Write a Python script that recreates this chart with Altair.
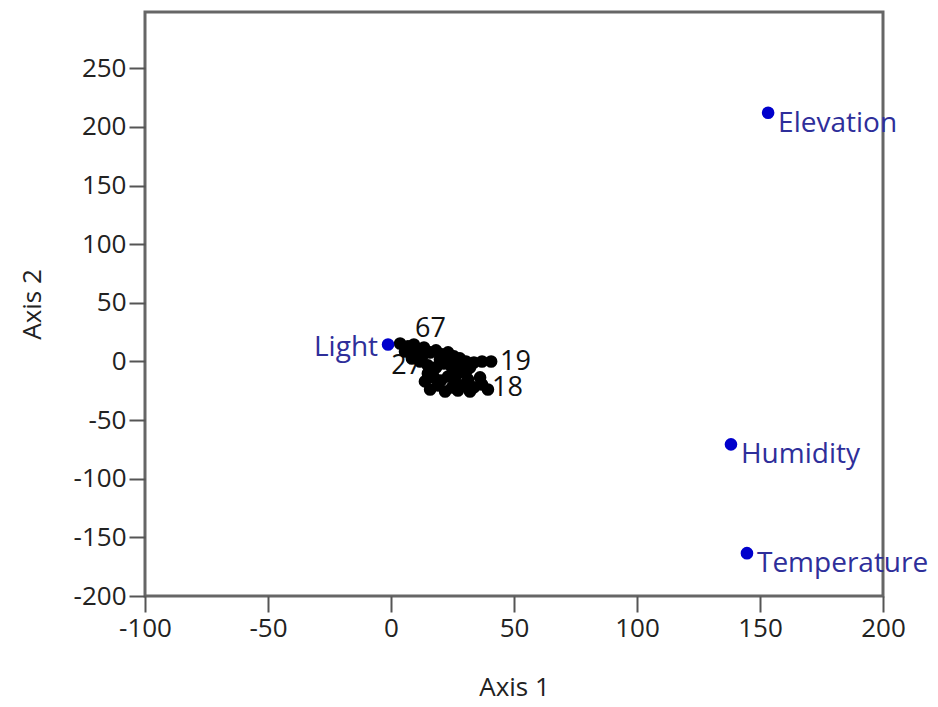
import altair as alt
import pandas as pd

# ---- data ----
site_x = [3.7, 6.9, 9.3, 11.0, 13.4, 15.9, 18.3, 20.7, 23.2, 25.6, 28.0, 30.5, 33.7, 40.7,
          8.5, 11.8, 15.0, 18.3, 21.5, 24.8, 17.5, 20.3, 23.2, 26.0, 28.9, 31.3, 33.7, 37.0,
          27.2, 15.0, 30.5,
          15.9, 22.0, 27.2, 32.1, 39.4, 36.2, 13.8, 19.1, 24.8, 9.8, 5.7, 12.6, 19.9, 24.8,
          37.0, 28.0, 32.1]
site_y = [15.3, 12.8, 14.5, 9.4, 11.9, 7.7, 9.4, 6.0, 7.7, 4.3, 2.6, 0.0, -0.9, 0.0,
          2.6, 0.0, -3.4, -5.1, -1.7, -5.1, -13.6, -16.2, -12.8, -17.0, -20.4, -15.3, -22.1, -19.6,
          -10.2, -10.2, -8.5,
          -23.9, -25.6, -24.7, -25.6, -23.9, -13.6, -17.0, -20.4, -22.1, 6.8, 8.5, 4.3, 1.7, 0.0,
          0.0, -3.4, -5.1]
site_label = ["", "67", "", "", "", "", "", "", "", "", "", "", "", "19",
              "", "27", "", "", "", "", "", "", "", "", "", "", "", "18",
              "", "", "",
              "", "", "", "", "", "", "", "", "", "", "", "", "", "",
              "", "", ""]

var_names = ["Elevation", "Humidity", "Temperature", "Light"]
var_x = [153.3, 138.2, 144.7, -1.2]
var_y = [212.1, -70.7, -163.5, 14.5]

x_ticks = [-100, -50, 0, 50, 100, 150, 200]
y_ticks = [-200, -150, -100, -50, 0, 50, 100, 150, 200, 250]
x_domain = [-100, 200]
y_domain = [-200, 298]

sites = pd.DataFrame({"x": site_x, "y": site_y, "label": site_label})
variables = pd.DataFrame({"x": var_x, "y": var_y, "name": var_names})

FONT = "Open Sans"

xs = alt.Scale(domain=x_domain, nice=False, zero=False)
ys = alt.Scale(domain=y_domain, nice=False, zero=False)

X = alt.X("x:Q", scale=xs, title="Axis 1",
          axis=alt.Axis(values=x_ticks, labelFlush=False, titlePadding=33, labelPadding=3,
                        labelExpr="'' + datum.value"))
Y = alt.Y("y:Q", scale=ys, title="Axis 2",
          axis=alt.Axis(values=y_ticks, labelFlush=False, titlePadding=28, labelPadding=3,
                        labelExpr="'' + datum.value"))

base_sites = alt.Chart(sites).encode(x=X, y=Y)
base_vars = alt.Chart(variables).encode(x=X, y=Y)

# label offsets (style): label -> (align, dx, dy)
label_style = {
    "67": ("left", 7, -17),
    "19": ("left", 9, 1),
    "27": ("right", 2, 5),
    "18": ("left", 10, 4),
}

site_text_layers = []
for lab, (al, dx, dy) in label_style.items():
    site_text_layers.append(
        base_sites.transform_filter(alt.datum.label == lab)
        .mark_text(align=al, baseline="middle", dx=dx, dy=dy, font=FONT, fontSize=27, color="#111111")
        .encode(text="label:N")
    )

site_points = base_sites.mark_circle(size=160, color="#000000", opacity=1)

var_points = base_vars.mark_circle(size=160, color="#0000cc", opacity=1)

var_text_right = base_vars.transform_filter(alt.datum.name != "Light").mark_text(
    align="left", baseline="middle", dx=10, dy=11, font=FONT, fontSize=28, color="#2e2e9a"
).encode(text="name:N")

var_text_left = base_vars.transform_filter(alt.datum.name == "Light").mark_text(
    align="right", baseline="middle", dx=-10, dy=4, font=FONT, fontSize=28, color="#2e2e9a"
).encode(text="name:N")

chart = alt.layer(
    *site_text_layers, site_points, var_points, var_text_right, var_text_left
).properties(
    width=738,
    height=584,
    autosize=alt.AutoSizeParams(type="none"),
    padding={"left": 137, "top": 4, "right": 47, "bottom": 110},
    background="white",
).configure_view(
    stroke="#666666", strokeWidth=3
).configure_axis(
    domain=False,
    grid=False,
    ticks=True,
    tickColor="#555555",
    tickWidth=2,
    tickSize=16,
    labelFont=FONT,
    labelFontSize=26,
    labelColor="#222222",
    titleFont=FONT,
    titleFontSize=26,
    titleFontWeight="normal",
    titleColor="#222222",
)

chart.save("out.html", embed_options={"renderer": "svg", "actions": False})
